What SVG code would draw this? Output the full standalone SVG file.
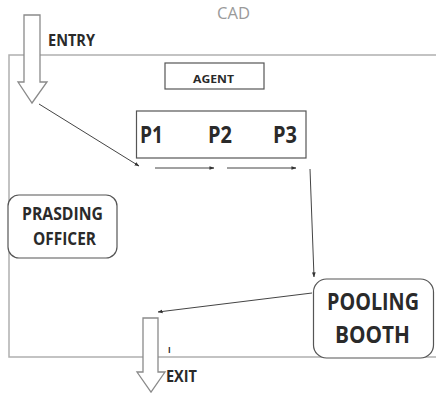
<svg xmlns="http://www.w3.org/2000/svg" width="436" height="394" viewBox="0 0 436 394">
<defs>
<style>
.frame{fill:none;stroke:#b0b0b0;stroke-width:1.5}
.box{fill:#fff;stroke:#555;stroke-width:1.2}
.bigarrow{fill:#fff;stroke:#8a8a8a;stroke-width:1.3;stroke-linejoin:miter}
.conn{fill:none;stroke:#444;stroke-width:1;marker-end:url(#ah)}
.lbl{font-family:"Open Sans","Liberation Sans",sans-serif;font-weight:bold;fill:#2a2a2a}
.cad{font-family:"Open Sans","Liberation Sans",sans-serif;fill:#9a9a9a}
</style>
<marker id="ah" viewBox="0 0 6 6" refX="5.5" refY="3" markerWidth="5" markerHeight="5" orient="auto" markerUnits="userSpaceOnUse">
<path d="M0,0.8 L6,3 L0,5.2 Z" fill="#333"/>
</marker>
</defs>
<rect width="436" height="394" fill="#fff"/>
<g id="frame">
<path class="frame" d="M436,55 H9 V357 H436"/>
<text class="cad" x="217" y="19" font-size="16" textLength="33" lengthAdjust="spacingAndGlyphs">CAD</text>
</g>
<g id="entry">
<polygon class="bigarrow" points="24,15 40,15 40,82 47,82 32,103 18,82 24,82"/>
<text class="lbl" x="48" y="46" font-size="16" textLength="47" lengthAdjust="spacingAndGlyphs">ENTRY</text>
</g>
<g id="agent">
<rect class="box" x="165" y="63" width="99" height="26" stroke="#888"/>
<text class="lbl" x="193" y="83" font-size="10.5" textLength="41" lengthAdjust="spacingAndGlyphs" fill="#444">AGENT</text>
</g>
<g id="processes">
<rect class="box" x="136.5" y="111" width="169.5" height="47" stroke-width="1.5"/>
<text class="lbl" x="140" y="143" font-size="24" textLength="23" lengthAdjust="spacingAndGlyphs">P1</text>
<text class="lbl" x="208" y="143" font-size="24" textLength="24" lengthAdjust="spacingAndGlyphs">P2</text>
<text class="lbl" x="273" y="143" font-size="24" textLength="24" lengthAdjust="spacingAndGlyphs">P3</text>
</g>
<g id="presiding-officer">
<rect class="box" x="8" y="195" width="109" height="63" rx="11" ry="11"/>
<text class="lbl" x="22" y="220" font-size="18" textLength="81" lengthAdjust="spacingAndGlyphs">PRASDING</text>
<text class="lbl" x="33" y="245" font-size="18" textLength="63" lengthAdjust="spacingAndGlyphs">OFFICER</text>
</g>
<g id="pooling-booth">
<rect class="box" x="313.5" y="279" width="120" height="79" rx="13" ry="13"/>
<text class="lbl" x="327" y="310" font-size="23" textLength="92" lengthAdjust="spacingAndGlyphs">POOLING</text>
<text class="lbl" x="335" y="343" font-size="23" textLength="75" lengthAdjust="spacingAndGlyphs">BOOTH</text>
</g>
<g id="exit">
<polygon class="bigarrow" points="143,318 158,318 158,372 165,372 151,392 137,372 143,372"/>
<text class="lbl" x="166" y="382" font-size="16" textLength="31" lengthAdjust="spacingAndGlyphs">EXIT</text>
<text class="lbl" x="168" y="353" font-size="8" fill="#333">I</text>
</g>
<g id="connectors">
<line class="conn" x1="39" y1="104" x2="139" y2="166"/>
<line class="conn" x1="155" y1="168" x2="214" y2="168"/>
<line class="conn" x1="227" y1="168" x2="296" y2="168"/>
<line class="conn" x1="310" y1="169" x2="314" y2="277"/>
<line class="conn" x1="312" y1="293" x2="158" y2="312"/>
</g>
</svg>
